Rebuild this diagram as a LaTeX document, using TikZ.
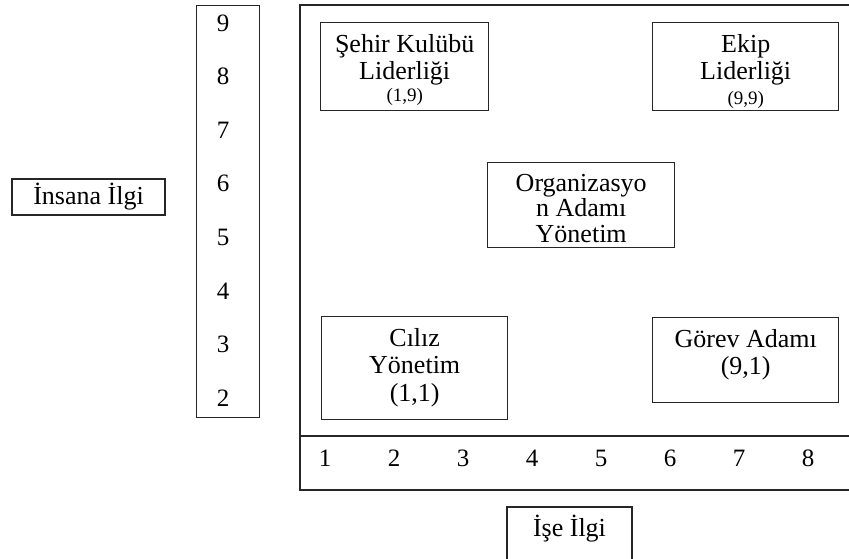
\documentclass[tikz,border=0pt]{standalone}
\usepackage{fontspec}
\setmainfont{Liberation Serif}
\usetikzlibrary{positioning}

\begin{document}
\begin{tikzpicture}[x=1pt,y=-1pt,
    frm/.style={draw=black!85,line width=1.4pt},
    bx/.style={draw=black!85,line width=1.4pt,anchor=north west,inner sep=0pt},
    tag/.style={draw=black!85,line width=1.4pt,inner sep=0pt,
      font=\fontsize{26}{27}\selectfont},
    txt/.style={font=\fontsize{26}{27.5}\selectfont,align=center,anchor=north,inner sep=0pt},
    num/.style={font=\fontsize{25}{26}\selectfont,inner sep=0pt},
  ]
    \useasboundingbox (0,0) rectangle (849,558);

    % grid frame
    \draw[frm] (853,5) -| (300,490) -- (853,490);
    \draw[frm] (300,436) -- (853,436);

    % vertical scale
    \node[bx,minimum width=63,minimum height=412] (ycol) at (196,5) {};
    \foreach \n [count=\i from 0] in {9,...,2}
      \node[num] (y\n) at (223,{23+\i*53.6}) {\n};

    % horizontal scale
    \foreach \n in {1,...,8}
      \node[num] (x\n) at ({325+(\n-1)*69},458) {\n};

    \node[tag,minimum width=153,minimum height=36] (insan) at (88.5,197) {İnsana İlgi};
    \node[tag,minimum width=125,minimum height=59,text depth=21pt] (ise) at (569.5,536.5) {İşe İlgi};

    % styles
    \node[bx,minimum width=168,minimum height=88] (sehir) at (320,22) {};
    \node[txt] (sehirtxt) at ([yshift=-12pt]sehir.north)
      {Şehir Kulübü\\Liderliği\\[-6pt]{\fontsize{19}{20}\selectfont(1,9)}};

    \node[bx,minimum width=186,minimum height=88] (ekip) at (652,22) {};
    \node[txt] (ekiptxt) at ([yshift=-12pt]ekip.north)
      {Ekip\\Liderliği\\[-3pt]{\fontsize{19}{20}\selectfont(9,9)}};

    \node[bx,minimum width=187,minimum height=85] (org) at (487,162) {};
    \node[txt] (orgtxt) at ([yshift=-12pt]org.north)
      {Organizasyo\\[-2pt]n Adamı\\[-2pt]Yönetim};

    \node[bx,minimum width=186,minimum height=103] (ciliz) at (321,316) {};
    \node[txt] (ciliztxt) at ([yshift=-12pt]ciliz.north)
      {Cılız\\Yönetim\\(1,1)};

    \node[bx,minimum width=186,minimum height=85] (gorev) at (652,317) {};
    \node[txt] (gorevtxt) at ([yshift=-12pt]gorev.north)
      {Görev Adamı\\(9,1)};
\end{tikzpicture}
\end{document}
